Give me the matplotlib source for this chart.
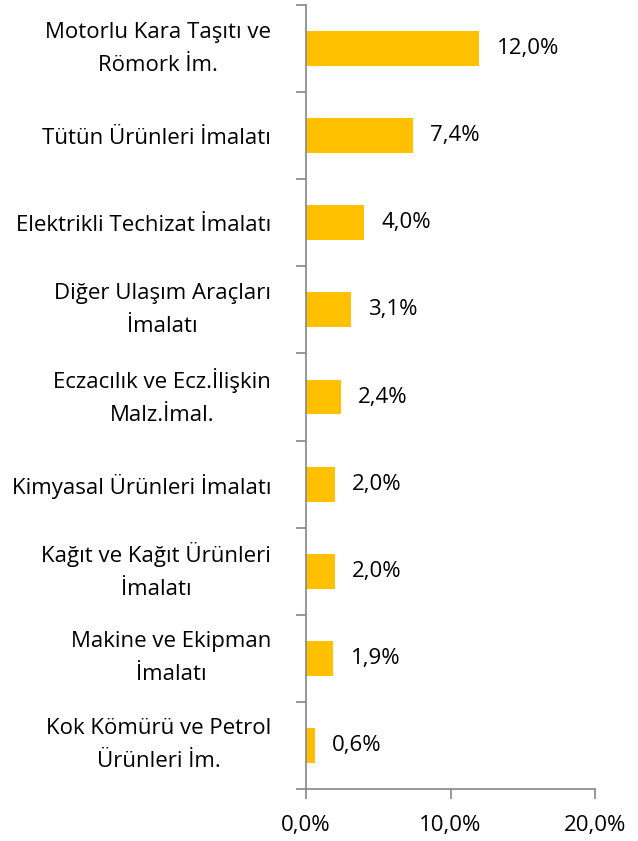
import numpy as np
import matplotlib
matplotlib.use("Agg")
import matplotlib.pyplot as plt
from matplotlib.ticker import FixedLocator

plt.rcParams['font.family'] = ['Open Sans', 'DejaVu Sans']

categories = [
    "Motorlu Kara Taşıtı ve\nRömork İm.",
    "Tütün Ürünleri İmalatı",
    "Elektrikli Techizat İmalatı",
    "Diğer Ulaşım Araçları\nİmalatı",
    "Eczacılık ve Ecz.İlişkin\nMalz.İmal.",
    "Kimyasal Ürünleri İmalatı",
    "Kağıt ve Kağıt Ürünleri\nİmalatı",
    "Makine ve Ekipman\nİmalatı",
    "Kok Kömürü ve Petrol\nÜrünleri İm.",
]
values = [12.0, 7.4, 4.0, 3.1, 2.4, 2.0, 2.0, 1.9, 0.6]
xticks = [0, 10, 20]

bar_color = "#FFC000"
axis_color = "#868686"
fs = 16

fig = plt.figure(figsize=(6.38, 8.41), dpi=100)
ax = fig.add_axes([306/638, 52/841, 289/638, 784/841])

n = len(categories)
ypos = np.arange(n)[::-1]
ax.barh(ypos, values, height=0.4, color=bar_color)

for y, v in zip(ypos, values):
    ax.text(v + 1.2, y, f"{v:.1f}%".replace(".", ","), va="center", ha="left",
            fontsize=fs, color="black")

ax.set_xlim(0, 20)
ax.set_ylim(-0.5, n - 0.5)
ax.set_xticks(xticks)
ax.set_xticklabels([f"{t:.1f}%".replace(".", ",") for t in xticks], fontsize=fs)

# category labels between boundary ticks
ax.set_yticks(ypos)
ax.set_yticklabels(categories, fontsize=fs, multialignment="center", linespacing=1.75)
for lbl in ax.get_yticklabels():
    if "\n" in lbl.get_text():
        lbl.set_verticalalignment("center")
ax.yaxis.set_minor_locator(FixedLocator(np.arange(-0.5, n, 1.0)))
ax.tick_params(axis="y", which="major", length=0, pad=25)
ax.tick_params(axis="y", which="minor", length=7, width=1.2, color=axis_color)
ax.tick_params(axis="x", length=7, width=1.2, color=axis_color, pad=12)

for s in ["top", "right"]:
    ax.spines[s].set_visible(False)
for s in ["left", "bottom"]:
    ax.spines[s].set_color(axis_color)
    ax.spines[s].set_linewidth(1.2)

fig.savefig("out.png", dpi=100)
